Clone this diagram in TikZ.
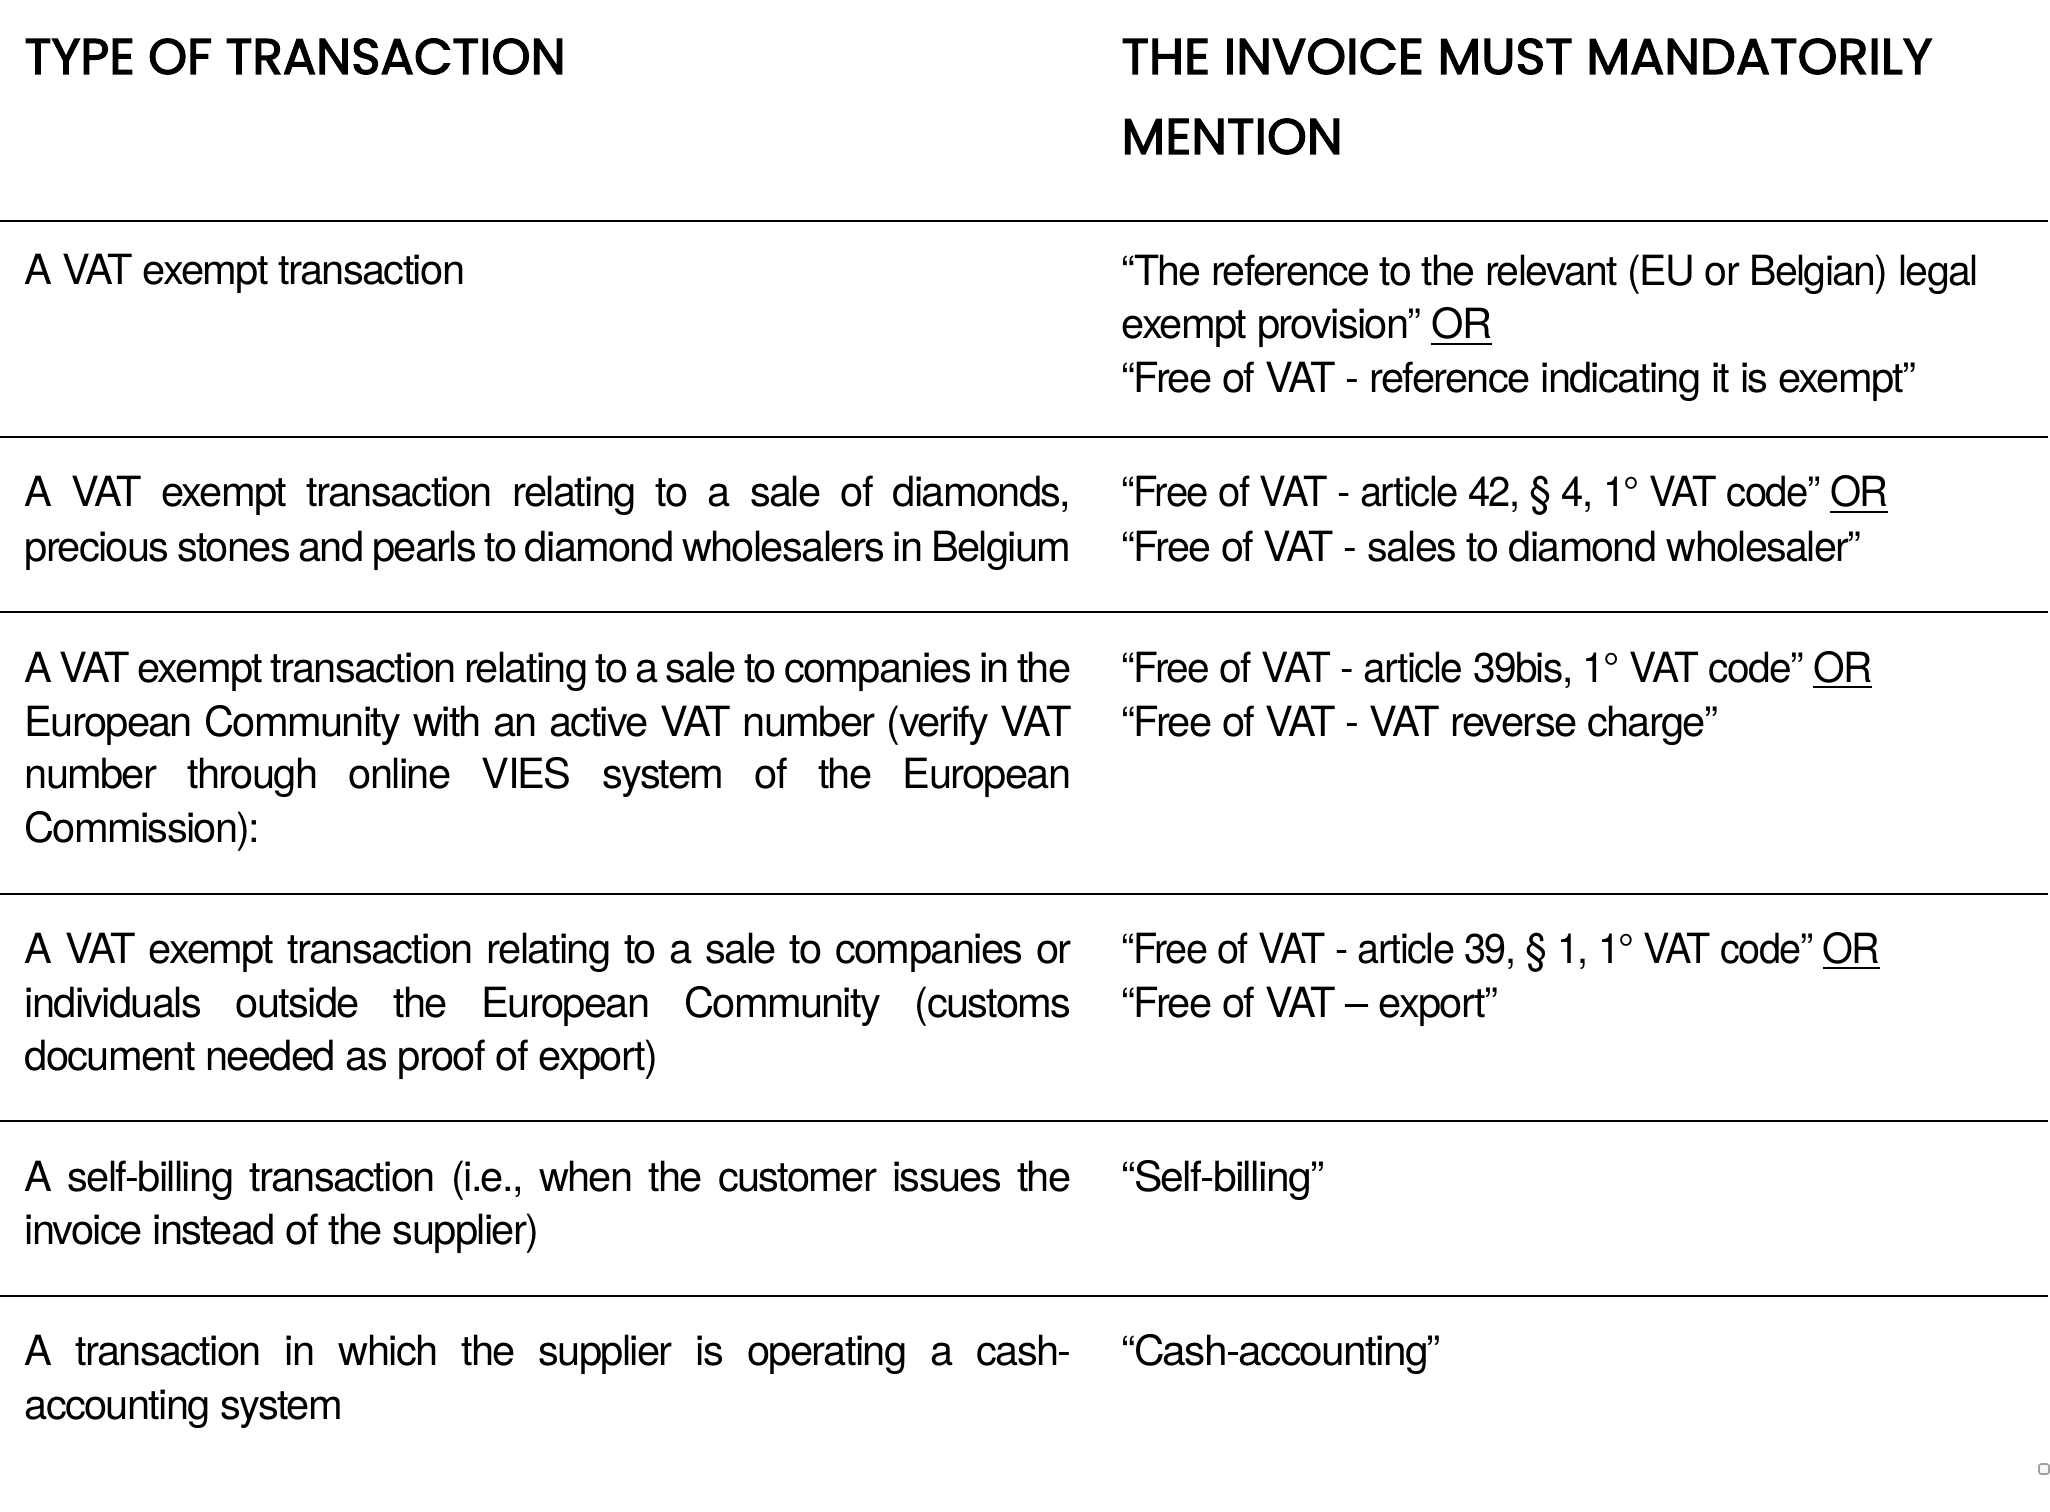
\documentclass[tikz,border=0pt]{standalone}
\usepackage{fontspec}
\usepackage{graphicx}
\setmainfont{TeX Gyre Heros}[LetterSpace=-4]
\newfontfamily\hdfont{Poppins}[FakeBold=2.4]
\newsavebox\orbox
\newcommand\orul[1]{\sbox\orbox{#1}\rlap{\rule[-2.4pt]{\wd\orbox}{0.75pt}}\usebox\orbox}
\newcommand\jl[1]{\makebox[392.6pt][s]{#1}}
\newcommand\sqz[2]{\scalebox{#1}[1]{#2}}
\newsavebox\hdbox
\tikzset{
  bodytxt/.style={anchor=base west, inner sep=0pt, font=\fontsize{15.6pt}{20pt}\selectfont\frenchspacing},
  headtxt/.style={anchor=base west, inner sep=0pt, font=\hdfont\fontsize{18.8pt}{22pt}\selectfont},
  rowrule/.style={line width=1pt, black},
}
\begin{document}
\sbox\hdbox{\hdfont\fontsize{18.8pt}{22pt}\selectfont TYPE OF TRANSACTION}%
\pgfmathsetmacro\hdsxA{202.9/\the\wd\hdbox}%
\sbox\hdbox{\hdfont\fontsize{18.8pt}{22pt}\selectfont THE INVOICE MUST MANDATORILY}%
\pgfmathsetmacro\hdsxB{304.1/\the\wd\hdbox}%
\begin{tikzpicture}[x=0.375pt, y=-0.375pt]
\useasboundingbox (0,0) rectangle (2050,1512);
\fill[white] (0,0) rectangle (2050,1512);
% header
\node[headtxt] (h1) at (24,74) {\scalebox{\hdsxA}[1]{TYPE OF TRANSACTION}};
\node[headtxt] (h2) at (1121,74) {\scalebox{\hdsxB}[1]{THE INVOICE MUST MANDATORILY}};
\node[headtxt] (h3) at (1121,154) {\scalebox{\hdsxB}[1]{MENTION}};
% rules
\foreach \yy in {221,437,612,894,1121,1296} \draw[rowrule] (0,\yy) -- (2048,\yy);
% row 1
\node[bodytxt] (l1a) at (24,285) {A VAT exempt transaction};
\node[bodytxt] (r1a) at (1121,286) {\sqz{0.987}{“The reference to the relevant (EU or Belgian) legal}};
\node[bodytxt] (r1b) at (1121,339) {exempt provision” \orul{OR}};
\node[bodytxt] (r1c) at (1121,393) {“Free of VAT - reference indicating it is exempt”};
% row 2
\node[bodytxt] (l2a) at (24,507) {\jl{A VAT exempt transaction relating to a sale of diamonds,}};
\node[bodytxt] (l2b) at (24,561) {\jl{precious stones and pearls to diamond wholesalers in Belgium}};
\node[bodytxt] (r2a) at (1121,507) {\sqz{0.962}{“Free of VAT - article 42, § 4, 1° VAT code” \orul{OR}}};
\node[bodytxt] (r2b) at (1121,561) {\sqz{0.991}{“Free of VAT - sales to diamond wholesaler”}};
% row 3
\node[bodytxt] (l3a) at (24,682) {\jl{A VAT exempt transaction relating to a sale to companies in the}};
\node[bodytxt] (l3b) at (24,736) {\jl{European Community with an active VAT number (verify VAT}};
\node[bodytxt] (l3c) at (24,788) {\jl{number through online VIES system of the European}};
\node[bodytxt] (l3d) at (24,842) {Commission):};
\node[bodytxt] (r3a) at (1121,682) {\sqz{0.976}{“Free of VAT - article 39bis, 1° VAT code” \orul{OR}}};
\node[bodytxt] (r3b) at (1121,736) {“Free of VAT - VAT reverse charge”};
% row 4
\node[bodytxt] (l4a) at (24,963) {\jl{A VAT exempt transaction relating to a sale to companies or}};
\node[bodytxt] (l4b) at (24,1017) {\jl{individuals outside the European Community (customs}};
\node[bodytxt] (l4c) at (24,1070) {document needed as proof of export)};
\node[bodytxt] (r4a) at (1121,963) {\sqz{0.952}{“Free of VAT - article 39, § 1, 1° VAT code” \orul{OR}}};
\node[bodytxt] (r4b) at (1121,1017) {“Free of VAT – export”};
% row 5
\node[bodytxt] (l5a) at (24,1191) {\jl{A self-billing transaction (i.e., when the customer issues the}};
\node[bodytxt] (l5b) at (24,1244) {invoice instead of the supplier)};
\node[bodytxt] (r5a) at (1121,1191) {\sqz{1.025}{“Self-billing”}};
% row 6
\node[bodytxt] (l6a) at (24,1365) {\jl{A transaction in which the supplier is operating a cash-}};
\node[bodytxt] (l6b) at (24,1419) {accounting system};
\node[bodytxt] (r6a) at (1121,1365) {\sqz{1.02}{“Cash-accounting”}};
% small box
\draw[gray!75, line width=0.6pt, rounded corners=0.8pt, fill=gray!6] (2039,1464) rectangle (2049,1474);
\end{tikzpicture}
\end{document}
